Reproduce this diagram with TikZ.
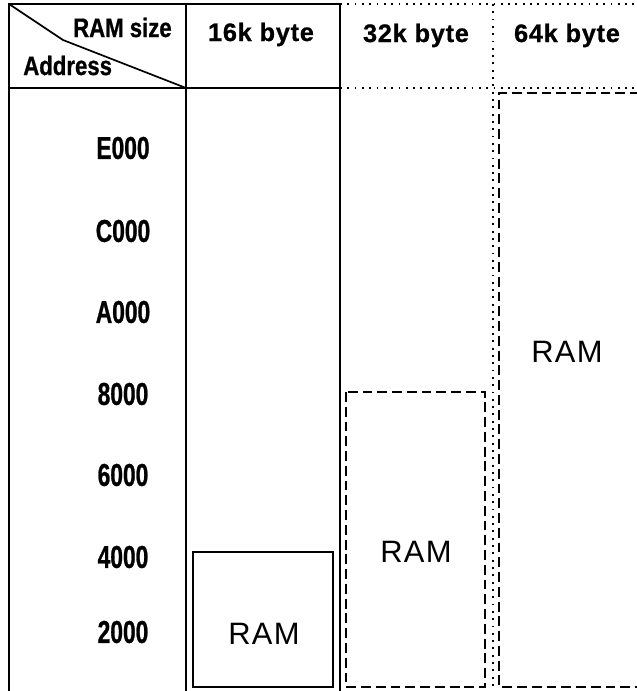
\documentclass[tikz,border=0pt]{standalone}
\usepackage{fontspec}
\setmainfont{Liberation Sans}
\newfontfamily\headfont[LetterSpace=3,BoldFeatures={FakeBold=0.8}]{Liberation Sans}
\newfontfamily\cornerfont[FakeStretch=0.83,BoldFeatures={FakeBold=0.8}]{Liberation Sans}
\newfontfamily\addrfont[FakeStretch=0.72,BoldFeatures={FakeBold=0.8}]{Liberation Sans}
\newfontfamily\ramfont[LetterSpace=4]{Liberation Sans}
\tikzset{
  frame/.style={line width=1.4pt},
  dotline/.style={line width=1.4pt,dash pattern=on 1.3pt off 3.9pt},
  dashbox/.style={line width=1.3pt,dash pattern=on 7pt off 3.5pt},
  colhead/.style={anchor=base,inner sep=0pt,font=\headfont\bfseries\fontsize{18}{20}\selectfont},
  corner/.style={inner sep=0pt,font=\cornerfont\bfseries\fontsize{19}{21}\selectfont},
  addr/.style={inner sep=0pt,font=\addrfont\bfseries\fontsize{22.5}{24}\selectfont},
  ramlabel/.style={inner sep=0pt,font=\ramfont\fontsize{22}{24}\selectfont}
}
\begin{document}
\begin{tikzpicture}[x=0.025cm,y=-0.025cm]
\useasboundingbox (0,0) rectangle (637,691);
% solid part of the table: address column and 16k column
\draw[frame] (9,691) -- (9,4) -- (340,4);
\draw[frame] (9,88) -- (340,88);
\draw[line width=2pt] (186,4) -- (186,691);
\draw[frame] (340,4) -- (340,691);
% dotted part: 32k and 64k columns
\draw[dotline] (340,4) -- (637,4);
\draw[dotline] (340,88) -- (637,88);
\draw[dotline] (493,4) -- (493,691);
% corner cell with its split
\draw[line width=1.2pt] (9,4) -- (63,40) -- (186,88);
\node[corner,anchor=base east] (ramsize) at (172,37) {RAM size};
\node[corner,anchor=base west] (address) at (23,75) {Address};
% column heads
\node[colhead] (h16) at (261,41) {16k byte};
\node[colhead] (h32) at (416,42) {32k byte};
\node[colhead] (h64) at (567,42) {64k byte};
% address marks
\foreach \lbl/\y in {E000/148,C000/231,A000/312,8000/394,6000/475,4000/557,2000/632}
  \node[addr] (a\lbl) at (123,\y) {\lbl};
% RAM blocks
\draw[frame] (193,552) rectangle (333,687);
\node[ramlabel] (ram16) at (264,634) {RAM};
\draw[dashbox] (346,392) rectangle (485,687);
\node[ramlabel] (ram32) at (416,552) {RAM};
\draw[dashbox] (640,93) -- (499,93) -- (499,687) -- (640,687);
\node[ramlabel] (ram64) at (567,352) {RAM};
\end{tikzpicture}
\end{document}
